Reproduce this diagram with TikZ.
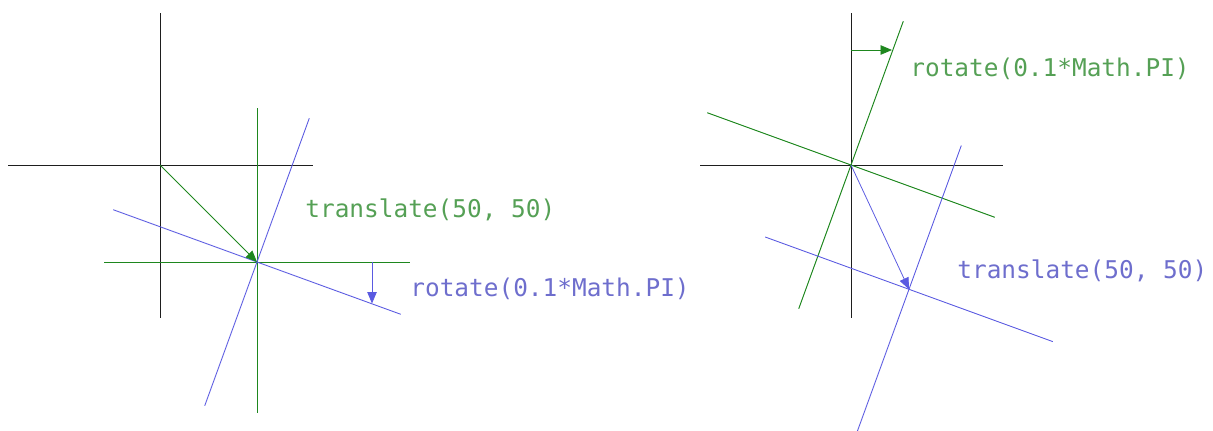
\documentclass[tikz,border=0pt]{standalone}
\usepackage{fontspec}
\setmonofont{DejaVu Sans Mono}
\usetikzlibrary{arrows.meta}
\definecolor{axisgray}{RGB}{30,30,30}
\definecolor{trgreen}{RGB}{30,135,30}
\definecolor{rotblue}{RGB}{90,90,225}
\definecolor{txtgreen}{RGB}{85,160,85}
\definecolor{txtblue}{RGB}{110,110,205}
\tikzset{
  axisline/.style={draw=axisgray,line width=0.45pt},
  greenline/.style={draw=trgreen,line width=0.55pt},
  blueline/.style={draw=rotblue,line width=0.5pt},
  movearrow/.style={-{Triangle[length=2.3mm,width=1.9mm]},line width=0.45pt},
  codelabel/.style={anchor=west,inner sep=0pt,font=\ttfamily\fontsize{13.9}{16}\selectfont}
}
\begin{document}
\begin{tikzpicture}[x=0.02cm,y=-0.02cm]
  \useasboundingbox (0,0) rectangle (1213,430);

  % 左图：先平移再旋转
  \coordinate (O1) at (160,165);
  \coordinate (P1) at (257,262);
  \draw[axisline] (160,13) -- (160,318);
  \draw[axisline] (8,165) -- (313,165);
  \draw[greenline] (257,108) -- (257,413);
  \draw[greenline] (104,262) -- (410,262);
  \draw[blueline] (113.2,209.7) -- (400.8,314.3);
  \draw[blueline] (309.3,118.2) -- (204.7,405.8);
  \draw[movearrow,trgreen] (O1) -- (P1);
  \coordinate (R1a) at (372,262);
  \coordinate (R1b) at (372,303.5);
  \draw[movearrow,rotblue] (R1a) -- (R1b);
  \node[codelabel,text=txtgreen] (T1) at (305,210) {translate(50, 50)};
  \node[codelabel,text=txtblue] (R1) at (410,289) {rotate(0.1*Math.PI)};

  % 右图：先旋转再平移
  \coordinate (O2) at (851,165);
  \coordinate (P2) at (909,289.3);
  \draw[axisline] (851,13) -- (851,318);
  \draw[axisline] (700,165) -- (1003,165);
  \draw[greenline] (707.2,112.7) -- (994.8,217.3);
  \draw[greenline] (903.3,21.2) -- (798.7,308.8);
  \draw[blueline] (765.2,237) -- (1052.8,341.6);
  \draw[blueline] (961.3,145.5) -- (856.7,433);
  \coordinate (R2a) at (851,50);
  \coordinate (R2b) at (892,50);
  \draw[movearrow,trgreen] (R2a) -- (R2b);
  \draw[movearrow,rotblue] (O2) -- (P2);
  \node[codelabel,text=txtgreen] (R2) at (910,69) {rotate(0.1*Math.PI)};
  \node[codelabel,text=txtblue] (T2) at (957,271) {translate(50, 50)};
\end{tikzpicture}
\end{document}
